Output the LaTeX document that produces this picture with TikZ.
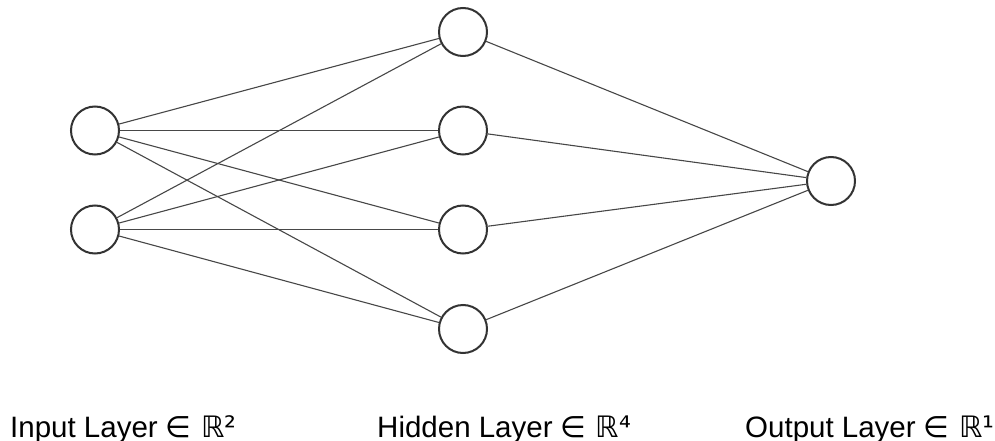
\documentclass[tikz,border=0pt]{standalone}
\usepackage{fontspec}
\setmainfont{Liberation Sans}
\newfontfamily\symfont{DejaVu Sans}
\begin{document}
\begin{tikzpicture}[x=1pt,y=-1pt,
  neuron/.style={circle,draw=black!80,line width=2pt,minimum size=48pt,inner sep=0pt,fill=white},
  conn/.style={draw=black!72,line width=1.1pt},
  lbl/.style={anchor=base west,inner sep=0pt,font=\fontsize{29.5}{31}\selectfont}]
\useasboundingbox (0,0) rectangle (995,441);
\node[neuron] (i1) at (95,130.5) {};
\node[neuron] (i2) at (95,229.5) {};
\node[neuron] (h1) at (463,32) {};
\node[neuron] (h2) at (463,130.5) {};
\node[neuron] (h3) at (463,229.5) {};
\node[neuron] (h4) at (463,329) {};
\node[neuron] (o1) at (831,181) {};
\foreach \a in {i1,i2}{\foreach \b in {h1,h2,h3,h4}{\draw[conn] (\a) -- (\b);}}
\foreach \b in {h1,h2,h3,h4}{\draw[conn] (\b) -- (o1);}
\node[lbl] (t1) at (10,437) {Input Layer {\symfont∈ ℝ²}};
\node[lbl] (t2) at (377,437) {Hidden Layer {\symfont∈ ℝ⁴}};
\node[lbl] (t3) at (745,437) {Output Layer {\symfont∈ ℝ¹}};
\end{tikzpicture}
\end{document}
